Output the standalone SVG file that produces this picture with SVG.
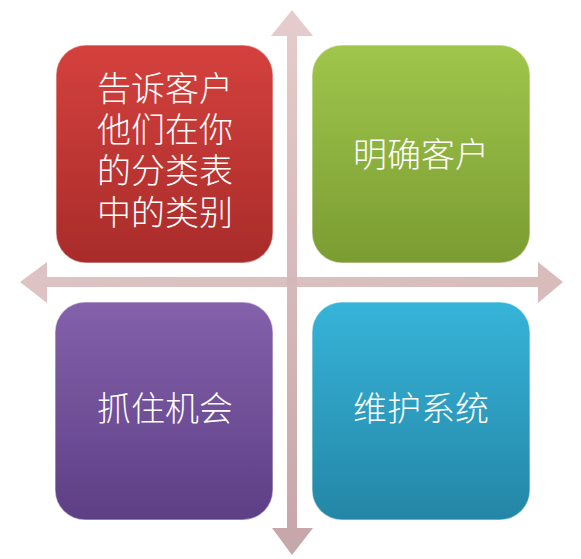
<svg xmlns="http://www.w3.org/2000/svg" width="581" height="559" viewBox="0 0 581 559">
<defs>
<linearGradient id="gRed" x1="0" y1="0" x2="0" y2="1"><stop offset="0" stop-color="#d4413d"/><stop offset="1" stop-color="#a82c2a"/></linearGradient>
<linearGradient id="gGreen" x1="0" y1="0" x2="0" y2="1"><stop offset="0" stop-color="#a0c64c"/><stop offset="1" stop-color="#7a9c32"/></linearGradient>
<linearGradient id="gPurple" x1="0" y1="0" x2="0" y2="1"><stop offset="0" stop-color="#8461aa"/><stop offset="1" stop-color="#5d3f86"/></linearGradient>
<linearGradient id="gTeal" x1="0" y1="0" x2="0" y2="1"><stop offset="0" stop-color="#36b4d9"/><stop offset="1" stop-color="#2486a6"/></linearGradient>
<linearGradient id="gArrowV" x1="0" y1="0" x2="0" y2="1"><stop offset="0" stop-color="#e6cccc"/><stop offset="1" stop-color="#c6a6a8"/></linearGradient>
<linearGradient id="gArrowH" x1="0" y1="0" x2="1" y2="0"><stop offset="0" stop-color="#ddc3c3"/><stop offset="1" stop-color="#d8bcbc"/></linearGradient>
</defs>
<style>
.box{stroke:#ffffff;stroke-opacity:0.45;stroke-width:1.5}
.lbl{font-family:"Noto Sans CJK SC","Noto Sans",sans-serif;font-size:34px;font-weight:300;fill:#ffffff;text-anchor:middle}
</style>
<rect width="581" height="559" fill="#ffffff"/>
<g id="connectors">
<path d="M287,36 L287,528 L272,528 L292,555 L313,528 L297,528 L297,36 L313,36 L292,10 L271,36 Z" fill="url(#gArrowV)"/>
<path d="M47,277 L538,277 L538,262 L563,282 L538,303 L538,287 L47,287 L47,303 L20,282 L47,262 Z" fill="url(#gArrowH)"/>
<rect x="287" y="277" width="10" height="10" fill="#d4b8b8"/>
</g>
<g id="node-red">
<rect class="box" x="56" y="45" width="217" height="218" rx="30" fill="url(#gRed)"/>
<text class="lbl" x="165" y="101">告诉客户<tspan x="165" dy="41">他们在你</tspan><tspan x="165" dy="41">的分类表</tspan><tspan x="165" dy="42">中的类别</tspan></text>
</g>
<g id="node-green">
<rect class="box" x="312" y="45" width="218" height="218" rx="30" fill="url(#gGreen)"/>
<text class="lbl" x="421" y="167">明确客户</text>
</g>
<g id="node-purple">
<rect class="box" x="55" y="302" width="218" height="218" rx="30" fill="url(#gPurple)"/>
<text class="lbl" x="165" y="421">抓住机会</text>
</g>
<g id="node-teal">
<rect class="box" x="312" y="302" width="218" height="218" rx="30" fill="url(#gTeal)"/>
<text class="lbl" x="421" y="421">维护系统</text>
</g>
</svg>
